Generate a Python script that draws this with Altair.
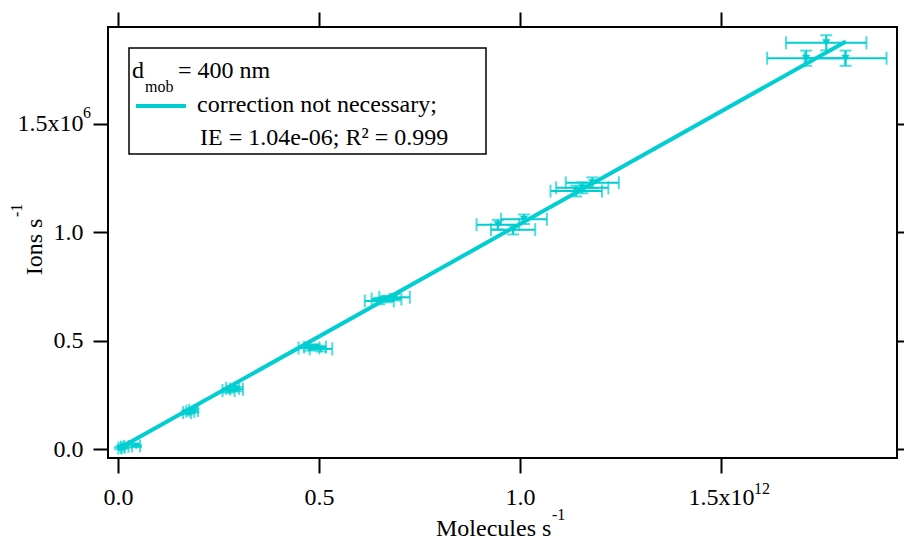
import altair as alt
import pandas as pd

# ---- data ----
x_vals = [0.005e12, 0.012e12, 0.020e12, 0.045e12,
          0.172e12, 0.180e12, 0.188e12,
          0.275e12, 0.285e12, 0.295e12,
          0.475e12, 0.490e12, 0.505e12,
          0.650e12, 0.668e12, 0.688e12,
          0.945e12, 0.983e12, 1.010e12,
          1.140e12, 1.155e12, 1.180e12,
          1.712e12, 1.762e12, 1.810e12]
y_vals = [0.004e6, 0.008e6, 0.012e6, 0.014e6,
          0.168e6, 0.174e6, 0.178e6,
          0.270e6, 0.280e6, 0.276e6,
          0.466e6, 0.470e6, 0.462e6,
          0.683e6, 0.692e6, 0.700e6,
          1.035e6, 1.012e6, 1.060e6,
          1.190e6, 1.205e6, 1.228e6,
          1.803e6, 1.874e6, 1.803e6]
x_err = [0.004e12, 0.005e12, 0.006e12, 0.010e12,
         0.010e12, 0.010e12, 0.011e12,
         0.015e12, 0.016e12, 0.016e12,
         0.026e12, 0.027e12, 0.028e12,
         0.036e12, 0.037e12, 0.038e12,
         0.053e12, 0.055e12, 0.057e12,
         0.064e12, 0.065e12, 0.066e12,
         0.097e12, 0.100e12, 0.102e12]
y_err = [0.005e6, 0.005e6, 0.005e6, 0.005e6,
         0.008e6, 0.008e6, 0.008e6,
         0.010e6, 0.010e6, 0.010e6,
         0.012e6, 0.012e6, 0.012e6,
         0.015e6, 0.015e6, 0.015e6,
         0.022e6, 0.022e6, 0.022e6,
         0.025e6, 0.025e6, 0.025e6,
         0.035e6, 0.035e6, 0.035e6]
fit_x = [0.0, 1.811e12]
fit_y = [0.0, 1.880e6]

x_ticks = [0.0, 0.5e12, 1.0e12, 1.5e12]
y_ticks = [0.0, 0.5e6, 1.0e6, 1.5e6]

legend_title = "d"
legend_sub = "mob"
legend_title_rest = "= 400 nm"
legend_line1 = "correction not necessary;"
legend_line2 = "IE = 1.04e-06; R\u00b2 = 0.999"

COLOR = "#00CED1"
FONT = "Liberation Serif"
FS = 24
SUP = 16

df = pd.DataFrame({
    "x": x_vals, "y": y_vals,
    "xlo": [a - b for a, b in zip(x_vals, x_err)],
    "xhi": [a + b for a, b in zip(x_vals, x_err)],
    "ylo": [a - b for a, b in zip(y_vals, y_err)],
    "yhi": [a + b for a, b in zip(y_vals, y_err)],
})
fit_df = pd.DataFrame({"x": fit_x, "y": fit_y})

xs = alt.Scale(domain=[-0.0249e12, 1.938e12], nice=False, zero=False)
ys = alt.Scale(domain=[-0.0415e6, 1.947e6], nice=False, zero=False)

common = dict(grid=False, domain=False, title=None, tickSize=15, tickWidth=2,
              tickColor="black", labelFont=FONT, labelFontSize=FS,
              labelColor="black", labelFlush=False, labelOverlap=False)

ax_bottom = alt.Axis(orient="bottom", values=x_ticks, labelPadding=12,
                     labelExpr="format(datum.value/1e12, '.1f') + (datum.value > 1.4e12 ? 'x10' : '')",
                     **common)
ax_left = alt.Axis(orient="left", values=y_ticks, labelPadding=10,
                   labelExpr="format(datum.value/1e6, '.1f') + (datum.value > 1.4e6 ? 'x10' : '')",
                   **common)
ax_top = alt.Axis(orient="top", values=x_ticks, labels=False, **common)
ax_right = alt.Axis(orient="right", values=y_ticks, labels=False, **common)

base = alt.Chart(df)

axes_main = base.mark_point(opacity=0).encode(
    x=alt.X("x:Q", scale=xs, axis=ax_bottom),
    y=alt.Y("y:Q", scale=ys, axis=ax_left),
)
axes_other = base.mark_point(opacity=0).encode(
    x=alt.X("x:Q", scale=xs, axis=ax_top),
    y=alt.Y("y:Q", scale=ys, axis=ax_right),
)

EW = 2
xbar = base.mark_rule(color=COLOR, strokeWidth=EW).encode(
    x=alt.X("xlo:Q", scale=xs, axis=None), x2="xhi:Q",
    y=alt.Y("y:Q", scale=ys, axis=None))
ybar = base.mark_rule(color=COLOR, strokeWidth=EW).encode(
    x=alt.X("x:Q", scale=xs, axis=None),
    y=alt.Y("ylo:Q", scale=ys, axis=None), y2="yhi:Q")

def vcap(field):
    return base.mark_tick(color=COLOR, orient="vertical", size=13, thickness=EW).encode(
        x=alt.X(f"{field}:Q", scale=xs, axis=None),
        y=alt.Y("y:Q", scale=ys, axis=None))

def hcap(field):
    return base.mark_tick(color=COLOR, orient="horizontal", size=12, thickness=EW).encode(
        x=alt.X("x:Q", scale=xs, axis=None),
        y=alt.Y(f"{field}:Q", scale=ys, axis=None))

points = base.mark_point(shape="triangle-down", filled=True, size=65,
                         color=COLOR, opacity=1).encode(
    x=alt.X("x:Q", scale=xs, axis=None),
    y=alt.Y("y:Q", scale=ys, axis=None))

fit = alt.Chart(fit_df).mark_line(color=COLOR, strokeWidth=4).encode(
    x=alt.X("x:Q", scale=xs, axis=None),
    y=alt.Y("y:Q", scale=ys, axis=None))

one = pd.DataFrame({"a": [0]})

def txt(text, x, y, size=FS, align="left", baseline="middle", angle=0):
    kw = dict(text=text, font=FONT, fontSize=size, color="black",
              align=align, baseline=baseline)
    if angle:
        kw["angle"] = angle
    return alt.Chart(one).mark_text(**kw).encode(x=alt.value(x), y=alt.value(y))

legend_box = alt.Chart(one).mark_rect(fill="white", stroke="black", strokeWidth=1.5).encode(
    x=alt.value(21), x2=alt.value(378), y=alt.value(21), y2=alt.value(127))
legend_swatch = alt.Chart(one).mark_rule(color=COLOR, strokeWidth=4).encode(
    x=alt.value(28), x2=alt.value(78), y=alt.value(79))

x_sup = alt.Chart(one).mark_text(text="12", font=FONT, fontSize=SUP, color="black",
                                 align="left", baseline="alphabetic", dx=33).encode(
    x=alt.XDatum(1.5e12, scale=xs, axis=None), y=alt.value(467))
y_sup = alt.Chart(one).mark_text(text="6", font=FONT, fontSize=SUP, color="black",
                                 align="left", baseline="alphabetic", dy=-6).encode(
    x=alt.value(-25), y=alt.YDatum(1.5e6, scale=ys, axis=None))

layers = [
    axes_main, axes_other,
    xbar, ybar, vcap("xlo"), vcap("xhi"), hcap("ylo"), hcap("yhi"),
    points, fit,
    legend_box, legend_swatch,
    txt(legend_title, 24, 44),
    txt(legend_sub, 37, 60, size=SUP),
    txt(legend_title_rest, 70, 44),
    txt(legend_line1, 89, 78),
    txt(legend_line2, 92, 111),
    txt("Molecules s", 328, 509, baseline="alphabetic"),
    txt("-1", 444, 493, size=SUP, baseline="alphabetic"),
    txt("Ions s", -66, 220, align="center", baseline="alphabetic", angle=270),
    txt("-1", -86, 190, size=SUP, baseline="alphabetic", angle=270),
    x_sup, y_sup,
]

chart = alt.layer(*layers).resolve_axis(x="independent", y="independent").properties(
    width=789, height=431,
    autosize=alt.AutoSizeParams(type="none"),
    padding={"left": 108, "top": 27, "right": 7, "bottom": 82},
).configure_view(stroke="black", strokeWidth=2)

chart.save("out.html", embed_options={"renderer": "svg", "actions": False})
